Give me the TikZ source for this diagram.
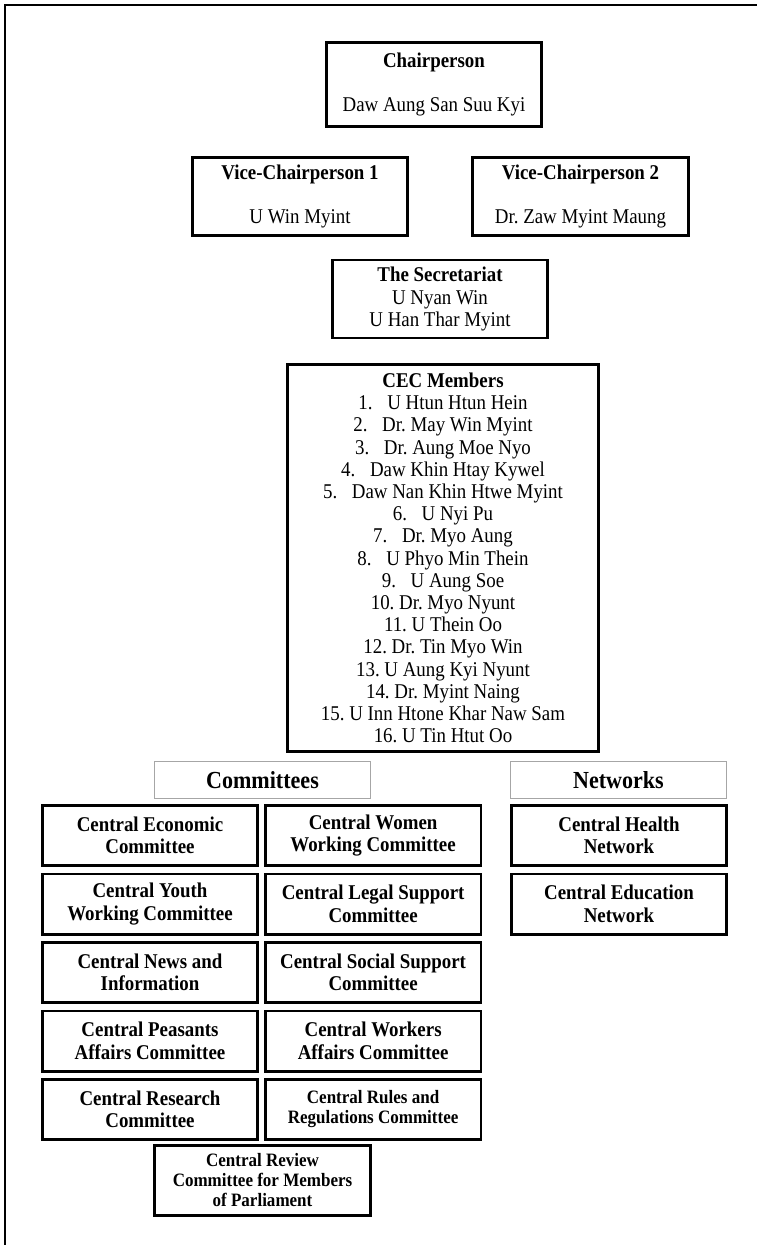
\documentclass[tikz,border=0pt]{standalone}
\usepackage{fontspec}
\setmainfont[FakeStretch=0.9]{Liberation Serif}
\usetikzlibrary{positioning}
\frenchspacing

\begin{document}
\begin{tikzpicture}[
    x=1pt, y=-1pt,
    officebox/.style={
        draw, line width=2.6pt, align=center, inner sep=2pt,
        minimum width=215.5pt, minimum height=#1,
        font=\fontsize{21}{22.2}\selectfont
    },
    unitbox/.style={
        draw, line width=2.6pt, align=center, inner sep=1pt,
        minimum width=215.5pt, minimum height=60.4pt,
        font=\fontsize{21}{22.5}\selectfont\bfseries
    },
    smallunit/.style={unitbox, font=\fontsize{18.9}{20}\selectfont\bfseries},
    headbox/.style={
        draw=gray!70, line width=1.2pt,
        minimum width=215.8pt, minimum height=36.8pt,
        font=\fontsize{24.5}{26}\selectfont\bfseries
    }
]
    \useasboundingbox (0,0) rectangle (757,1245);

    % Page frame (left and top edges only)
    \draw[line width=2.4pt] (5,1245) -- (5,5) -- (757,5);

    % Leadership
    \node[officebox=84pt] (chair) at (434,84.5)
        {\textbf{Chairperson}\\[21.8pt]Daw Aung San Suu Kyi};
    \node[officebox=78pt] (vice1) at (300,196.5)
        {\textbf{Vice-Chairperson 1}\\[21.8pt]U Win Myint};
    \node[officebox=78pt] (vice2) at (580.5,196.5)
        {\textbf{Vice-Chairperson 2}\\[21.8pt]Dr. Zaw Myint Maung};
    \node[officebox=78pt] (secr) at (440,299)
        {\textbf{The Secretariat}\\U Nyan Win\\U Han Thar Myint};

    % CEC member list
    \node[officebox=387pt, minimum width=310.5pt] (cec) at (443,558)
        {\textbf{CEC Members}\\
         1.\hspace{0.7em}U Htun Htun Hein\\
         2.\hspace{0.7em}Dr. May Win Myint\\
         3.\hspace{0.7em}Dr. Aung Moe Nyo\\
         4.\hspace{0.7em}Daw Khin Htay Kywel\\
         5.\hspace{0.7em}Daw Nan Khin Htwe Myint\\
         6.\hspace{0.7em}U Nyi Pu\\
         7.\hspace{0.7em}Dr. Myo Aung\\
         8.\hspace{0.7em}U Phyo Min Thein\\
         9.\hspace{0.7em}U Aung Soe\\
         10. Dr. Myo Nyunt\\
         11. U Thein Oo\\
         12. Dr. Tin Myo Win\\
         13. U Aung Kyi Nyunt\\
         14. Dr. Myint Naing\\
         15. U Inn Htone Khar Naw Sam\\
         16. U Tin Htut Oo};

    % Group headers
    \node[headbox] (comm) at (262.5,780) {Committees};
    \node[headbox] (netw) at (618.5,780) {Networks};

    % Committee grid
    \node[unitbox] (econ) at (150,835.5) {Central Economic\\Committee};
    \node[unitbox, right=5pt of econ] (women) {Central Women\\Working Committee};
    \node[unitbox, below=5.5pt of econ] (youth) {Central Youth\\Working Committee};
    \node[unitbox, right=5pt of youth] (legal) {Central Legal Support\\Committee};
    \node[unitbox, below=5.5pt of youth] (news) {Central News and\\Information};
    \node[unitbox, right=5pt of news] (social) {Central Social Support\\Committee};
    \node[unitbox, below=5.5pt of news] (peasant) {Central Peasants\\Affairs Committee};
    \node[unitbox, right=5pt of peasant] (worker) {Central Workers\\Affairs Committee};
    \node[unitbox, below=5.5pt of peasant] (research) {Central Research\\Committee};
    \node[smallunit, right=5pt of research] (rules)
        {Central Rules and\\Regulations Committee};
    \node[smallunit, minimum width=216pt, minimum height=70pt] (review) at (262.5,1180.5)
        {Central Review\\Committee for Members\\of Parliament};

    % Networks
    \node[unitbox] (health) at (619,835.5) {Central Health\\Network};
    \node[unitbox, below=5.5pt of health] (educ) {Central Education\\Network};
\end{tikzpicture}
\end{document}
